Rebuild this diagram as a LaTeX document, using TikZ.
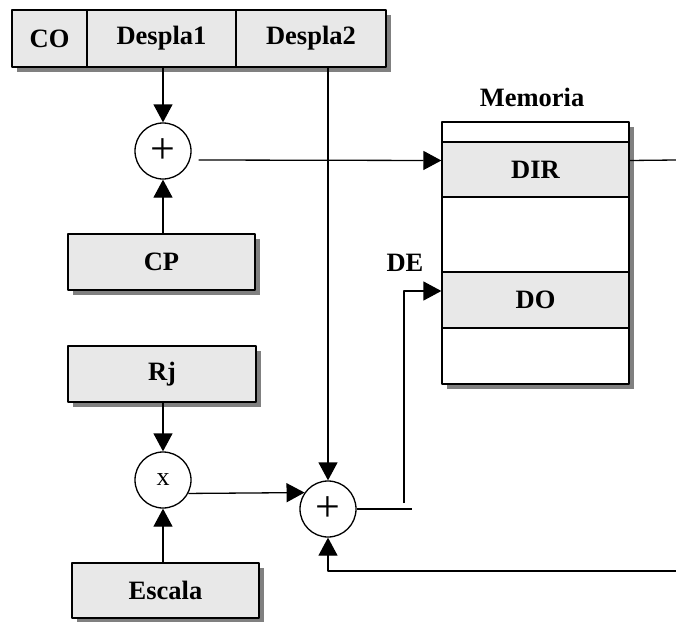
\documentclass[tikz,border=0pt]{standalone}
\usepackage{fontspec}
\setmainfont{Liberation Serif}
\usetikzlibrary{arrows.meta,shadows}
\definecolor{relleno}{HTML}{E8E8E8}
\definecolor{sombra}{HTML}{808080}
\begin{document}
\begin{tikzpicture}[x=1pt, y=-1pt, line width=1.3pt, line join=round,
		font=\fontsize{26.5}{30}\selectfont\bfseries,
		>={Triangle[length=18pt,width=19pt]},
		caja/.style={draw, fill=relleno, inner sep=0pt,
			drop shadow={shadow xshift=5pt, shadow yshift=-5pt, fill=sombra, opacity=1}},
		fila/.style={draw, fill=relleno, inner sep=0pt, minimum width=187pt},
		circ/.style={draw, circle, fill=white, minimum size=56pt, inner sep=0pt,
			font=\fontsize{44}{44}\selectfont}]
		\useasboundingbox (0,0) rectangle (676,621);
		\node[caja, minimum width=75pt, minimum height=57pt] (co) at (49.5,38.5) {CO};
		\node[caja, minimum width=149pt, minimum height=57pt] (d1) at (161.5,38.5) {Despla1};
		\node[caja, minimum width=150pt, minimum height=57pt] (d2) at (311,38.5) {Despla2};
		\node[caja, minimum width=187pt, minimum height=56pt] (cp) at (161.5,262) {CP};
		\node[caja, minimum width=188pt, minimum height=56pt] (rj) at (162,374) {Rj};
		\node[caja, minimum width=187pt, minimum height=55pt] (esc) at (165.5,590.5) {Escala};
		\node[caja, fill=white, minimum width=187pt, minimum height=262pt] (mem) at (535.5,253) {};
		\node[fila, minimum height=55pt] (dir) at (535.5,169.5) {DIR};
		\node[fila, minimum height=56pt] (do) at (535.5,300) {DO};
		\node (memlbl) at (532,97) {Memoria};
		\node (de) at (405,263) {DE};
		\node[circ] (suma1) at (163,151) {\raisebox{-6pt}{+}};
		\node[circ, font=\fontsize{26}{30}\selectfont] (mult) at (163,480) {x};
		\node[circ] (suma2) at (328,509) {\raisebox{-4pt}{+}};
		\coordinate (dirout) at (676,160);
		\coordinate (sumaout) at (412,509);
		\coordinate (dein) at (404,503);
		\coordinate (fbin) at (676,571);
		\draw[->] (suma1 |- d1.south) -- (suma1.north);
		\draw[->] (suma1 |- cp.north) -- (suma1.south);
		\draw[->] ([shift={(7,9)}]suma1.east) -- ([shift={(0,-9)}]dir.west);
		\draw ([shift={(0,-9)}]dir.east) -- (dirout);
		\draw[->] ([xshift=17pt]d2.south) -- (suma2.north);
		\draw[->] (mult |- rj.south) -- (mult.north);
		\draw[->] (mult |- esc.north) -- (mult.south);
		\draw[->] (mult.-28) -- (suma2.145);
		\draw (suma2.east) -- (sumaout);
		\draw[->] (dein) |- ([yshift=9pt]do.west);
		\draw[->] (fbin) -| (suma2.south);
	\end{tikzpicture}
\end{document}
